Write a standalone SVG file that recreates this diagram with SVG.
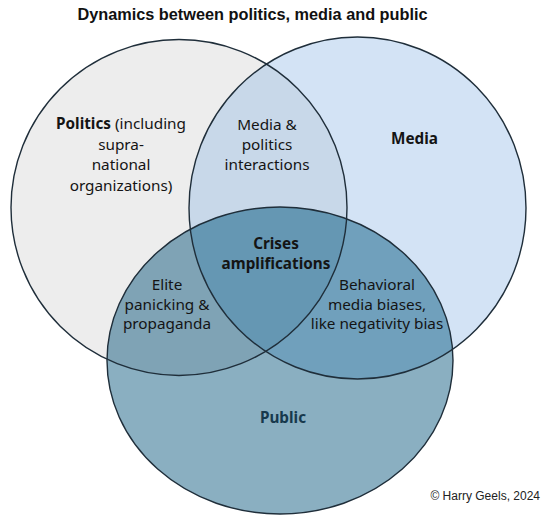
<svg xmlns="http://www.w3.org/2000/svg" width="541" height="518" viewBox="0 0 541 518">
<style>
.outline{fill:none;stroke:#1f2e3a;stroke-width:1.4}
.t{font-family:"Noto Sans",sans-serif;font-size:15.3px;fill:#141414;text-anchor:middle}
.b{font-weight:bold}
.title{font-family:"Liberation Sans",Arial,sans-serif;font-size:16.3px;font-weight:bold;fill:#111;text-anchor:middle}
.copy{font-family:"Liberation Sans",Arial,sans-serif;font-size:12px;fill:#222;text-anchor:end}
</style>
<defs>
<clipPath id="cPol"><ellipse cx="179" cy="207.5" rx="168" ry="168"/></clipPath>
<clipPath id="cMed"><ellipse cx="357.5" cy="208" rx="168.5" ry="171"/></clipPath>
<clipPath id="cPub"><ellipse cx="280" cy="360.5" rx="173" ry="153.5"/></clipPath>
</defs>
<rect width="541" height="518" fill="#ffffff"/>
<text class="title" x="252.5" y="19.5">Dynamics between politics, media and public</text>

<g id="politics">
<ellipse cx="179" cy="207.5" rx="168" ry="168" fill="#ededed"/>
</g>
<g id="media">
<ellipse cx="357.5" cy="208" rx="168.5" ry="171" fill="#d3e3f5"/>
</g>
<g id="public">
<ellipse cx="280" cy="360.5" rx="173" ry="153.5" fill="#8aafc1"/>
</g>
<g id="overlaps">
<ellipse cx="357.5" cy="208" rx="168.5" ry="171" fill="#c8d8e9" clip-path="url(#cPol)"/>
<ellipse cx="280" cy="360.5" rx="173" ry="153.5" fill="#7fa3b5" clip-path="url(#cPol)"/>
<ellipse cx="280" cy="360.5" rx="173" ry="153.5" fill="#70a0bc" clip-path="url(#cMed)"/>
<g clip-path="url(#cPol)"><ellipse cx="280" cy="360.5" rx="173" ry="153.5" fill="#6597b3" clip-path="url(#cMed)"/></g>
</g>
<g id="outlines">
<ellipse class="outline" cx="179" cy="207.5" rx="168" ry="168"/>
<ellipse class="outline" cx="357.5" cy="208" rx="168.5" ry="171"/>
<ellipse class="outline" cx="280" cy="360.5" rx="173" ry="153.5"/>
</g>

<g id="politics-label">
<text class="t" x="121" y="129"><tspan class="b">Politics</tspan> (including</text>
<text class="t" x="121" y="149.5">supra-</text>
<text class="t" x="121" y="170">national</text>
<text class="t" x="121" y="190.5">organizations)</text>
</g>
<g id="media-label">
<text class="t b" x="414.5" y="144">Media</text>
</g>
<g id="media-politics">
<text class="t" x="267" y="130">Media &amp;</text>
<text class="t" x="267" y="150">politics</text>
<text class="t" x="267" y="170">interactions</text>
</g>
<g id="crises">
<text class="t b" x="276" y="249">Crises</text>
<text class="t b" x="276" y="269">amplifications</text>
</g>
<g id="elite">
<text class="t" x="167" y="290">Elite</text>
<text class="t" x="167" y="309.5">panicking &amp;</text>
<text class="t" x="167" y="329">propaganda</text>
</g>
<g id="behavioral">
<text class="t" x="377" y="290">Behavioral</text>
<text class="t" x="377" y="309.5">media biases,</text>
<text class="t" x="377" y="329">like negativity bias</text>
</g>
<g id="public-label">
<text class="t b" x="283" y="423" style="fill:#17394d">Public</text>
</g>
<text class="copy" x="540" y="500">© Harry Geels, 2024</text>
</svg>
